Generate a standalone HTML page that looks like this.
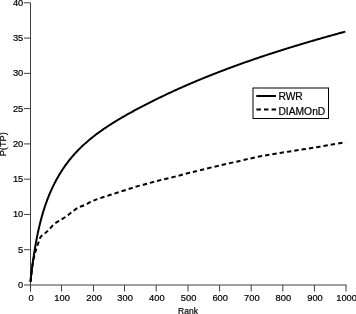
<!DOCTYPE html>
<html><head><meta charset="utf-8"><style>
html,body{margin:0;padding:0;background:#fff;}
body{width:356px;height:314px;overflow:hidden;}
svg{display:block;filter:grayscale(1);}
.t{font-family:"Liberation Sans",sans-serif;font-size:8.5px;fill:#000;stroke:#000;stroke-width:0.2px;}
.l{font-family:"Liberation Sans",sans-serif;font-size:10px;fill:#000;stroke:#000;stroke-width:0.2px;}
</style></head><body>
<svg width="356" height="314" viewBox="0 0 356 314">
<path d="M30.5 2.8V291.5" stroke="#404040" stroke-width="1" fill="none"/>
<path d="M30 285H346.5" stroke="#404040" stroke-width="1" fill="none"/>
<path d="M24 285.00H30.5" stroke="#404040" stroke-width="1"/>
<text transform="translate(23.30 288.00) scale(1.100 1)" text-anchor="end" class="t">0</text>
<path d="M24 249.72H30.5" stroke="#404040" stroke-width="1"/>
<text transform="translate(23.30 252.72) scale(1.100 1)" text-anchor="end" class="t">5</text>
<path d="M24 214.45H30.5" stroke="#404040" stroke-width="1"/>
<text transform="translate(23.30 217.45) scale(1.100 1)" text-anchor="end" class="t">10</text>
<path d="M24 179.18H30.5" stroke="#404040" stroke-width="1"/>
<text transform="translate(23.30 182.18) scale(1.100 1)" text-anchor="end" class="t">15</text>
<path d="M24 143.90H30.5" stroke="#404040" stroke-width="1"/>
<text transform="translate(23.30 146.90) scale(1.100 1)" text-anchor="end" class="t">20</text>
<path d="M24 108.62H30.5" stroke="#404040" stroke-width="1"/>
<text transform="translate(23.30 111.62) scale(1.100 1)" text-anchor="end" class="t">25</text>
<path d="M24 73.35H30.5" stroke="#404040" stroke-width="1"/>
<text transform="translate(23.30 76.35) scale(1.100 1)" text-anchor="end" class="t">30</text>
<path d="M24 38.08H30.5" stroke="#404040" stroke-width="1"/>
<text transform="translate(23.30 41.08) scale(1.100 1)" text-anchor="end" class="t">35</text>
<path d="M24 2.80H30.5" stroke="#404040" stroke-width="1"/>
<text transform="translate(23.30 5.80) scale(1.100 1)" text-anchor="end" class="t">40</text>
<path d="M30.50 285V291.5" stroke="#404040" stroke-width="1"/>
<text transform="translate(31.10 300.90) scale(1.100 1)" text-anchor="middle" class="t">0</text>
<path d="M61.50 285V291.5" stroke="#404040" stroke-width="1"/>
<text transform="translate(62.10 300.90) scale(1.100 1)" text-anchor="middle" class="t">100</text>
<path d="M93.50 285V291.5" stroke="#404040" stroke-width="1"/>
<text transform="translate(94.10 300.90) scale(1.100 1)" text-anchor="middle" class="t">200</text>
<path d="M124.50 285V291.5" stroke="#404040" stroke-width="1"/>
<text transform="translate(125.10 300.90) scale(1.100 1)" text-anchor="middle" class="t">300</text>
<path d="M156.20 285V291.5" stroke="#404040" stroke-width="1"/>
<text transform="translate(156.80 300.90) scale(1.100 1)" text-anchor="middle" class="t">400</text>
<path d="M188.00 285V291.5" stroke="#404040" stroke-width="1"/>
<text transform="translate(188.60 300.90) scale(1.100 1)" text-anchor="middle" class="t">500</text>
<path d="M219.60 285V291.5" stroke="#404040" stroke-width="1"/>
<text transform="translate(220.20 300.90) scale(1.100 1)" text-anchor="middle" class="t">600</text>
<path d="M251.20 285V291.5" stroke="#404040" stroke-width="1"/>
<text transform="translate(251.80 300.90) scale(1.100 1)" text-anchor="middle" class="t">700</text>
<path d="M282.80 285V291.5" stroke="#404040" stroke-width="1"/>
<text transform="translate(283.40 300.90) scale(1.100 1)" text-anchor="middle" class="t">800</text>
<path d="M314.40 285V291.5" stroke="#404040" stroke-width="1"/>
<text transform="translate(315.00 300.90) scale(1.100 1)" text-anchor="middle" class="t">900</text>
<path d="M346.00 285V291.5" stroke="#404040" stroke-width="1"/>
<text transform="translate(346.60 300.90) scale(1.100 1)" text-anchor="middle" class="t">1000</text>
<text transform="translate(188.00 313.80) scale(1.000 1)" text-anchor="middle" class="t">Rank</text>
<text transform="translate(6.2 144.3) rotate(-90) scale(1.09 1)" text-anchor="middle" class="t">P(TP)</text>
<path d="M30.31 281.80 L30.44 280.75 L30.57 279.70 L30.70 278.64 L30.83 277.58 L30.97 276.53 L31.10 275.46 L31.24 274.40 L31.37 273.33 L31.51 272.27 L31.65 271.20 L31.79 270.13 L31.93 269.06 L32.07 267.98 L32.21 266.91 L32.36 265.83 L32.50 264.75 L32.65 263.67 L32.80 262.59 L32.95 261.51 L33.11 260.43 L33.26 259.35 L33.42 258.26 L33.58 257.18 L33.74 256.09 L33.90 255.01 L34.07 253.92 L34.24 252.83 L34.41 251.74 L34.59 250.66 L34.76 249.57 L34.94 248.48 L35.13 247.39 L35.31 246.30 L35.50 245.21 L35.69 244.12 L35.89 243.03 L36.08 241.94 L36.28 240.85 L36.49 239.76 L36.70 238.68 L36.91 237.59 L37.12 236.50 L37.34 235.41 L37.56 234.33 L37.79 233.24 L38.02 232.15 L38.25 231.07 L38.49 229.99 L38.73 228.90 L38.98 227.82 L39.23 226.74 L39.49 225.66 L39.75 224.58 L40.01 223.51 L40.28 222.43 L40.55 221.35 L40.83 220.28 L41.11 219.21 L41.40 218.14 L41.69 217.07 L41.99 216.00 L42.29 214.94 L42.60 213.88 L42.91 212.82 L43.23 211.76 L43.56 210.70 L43.89 209.64 L44.22 208.59 L44.56 207.54 L44.91 206.49 L45.26 205.45 L45.62 204.40 L45.98 203.36 L46.36 202.32 L46.73 201.29 L47.11 200.25 L47.50 199.22 L47.90 198.20 L48.30 197.17 L48.71 196.15 L49.12 195.13 L49.54 194.12 L49.97 193.10 L50.41 192.09 L50.85 191.09 L51.30 190.09 L51.75 189.09 L52.21 188.09 L52.68 187.10 L53.16 186.11 L53.64 185.13 L54.13 184.15 L54.62 183.17 L55.13 182.20 L55.64 181.23 L56.15 180.27 L56.67 179.31 L57.20 178.35 L57.74 177.40 L58.29 176.45 L58.84 175.51 L59.39 174.57 L59.96 173.63 L60.53 172.71 L61.11 171.78 L61.70 170.86 L62.29 169.95 L62.89 169.04 L63.49 168.13 L64.11 167.23 L64.73 166.34 L65.36 165.45 L65.99 164.57 L66.64 163.69 L67.29 162.82 L67.94 161.95 L68.61 161.09 L69.28 160.23 L69.96 159.38 L70.64 158.54 L71.33 157.70 L72.03 156.86 L72.74 156.04 L73.46 155.22 L74.18 154.40 L74.91 153.60 L75.64 152.79 L76.39 152.00 L77.14 151.21 L77.89 150.42 L78.66 149.65 L79.42 148.87 L80.20 148.11 L80.98 147.35 L81.77 146.59 L82.57 145.84 L83.37 145.10 L84.17 144.36 L84.98 143.63 L85.80 142.90 L86.62 142.18 L87.45 141.46 L88.28 140.75 L89.12 140.04 L89.96 139.34 L90.81 138.65 L91.66 137.96 L92.52 137.27 L93.38 136.59 L94.24 135.92 L95.11 135.25 L95.98 134.58 L96.86 133.92 L97.74 133.27 L98.63 132.61 L99.52 131.97 L100.41 131.33 L101.30 130.69 L102.20 130.06 L103.10 129.43 L104.01 128.80 L104.91 128.18 L105.82 127.57 L106.73 126.96 L107.65 126.35 L108.57 125.75 L109.49 125.15 L110.41 124.56 L111.33 123.97 L112.26 123.38 L113.19 122.79 L114.12 122.21 L115.06 121.64 L115.99 121.07 L116.93 120.50 L117.87 119.93 L118.82 119.37 L119.76 118.81 L120.71 118.25 L121.65 117.70 L122.60 117.14 L123.55 116.60 L124.51 116.05 L125.46 115.51 L126.42 114.97 L127.37 114.43 L128.33 113.89 L129.29 113.36 L130.25 112.83 L131.22 112.30 L132.18 111.77 L133.14 111.25 L134.11 110.72 L135.07 110.20 L136.04 109.68 L137.01 109.16 L137.98 108.65 L138.95 108.13 L139.92 107.62 L140.89 107.11 L141.86 106.60 L142.83 106.09 L143.81 105.59 L144.78 105.08 L145.76 104.58 L146.73 104.08 L147.71 103.58 L148.69 103.08 L149.67 102.59 L150.65 102.09 L151.63 101.60 L152.61 101.11 L153.59 100.62 L154.57 100.13 L155.55 99.65 L156.54 99.16 L157.52 98.68 L158.51 98.20 L159.49 97.72 L160.48 97.24 L161.47 96.77 L162.46 96.29 L163.45 95.82 L164.44 95.35 L165.43 94.88 L166.42 94.41 L167.41 93.94 L168.40 93.47 L169.40 93.01 L170.39 92.55 L171.38 92.09 L172.38 91.63 L173.38 91.17 L174.37 90.71 L175.37 90.26 L176.37 89.80 L177.37 89.35 L178.37 88.90 L179.37 88.45 L180.37 88.01 L181.37 87.56 L182.37 87.12 L183.38 86.67 L184.38 86.23 L185.39 85.79 L186.39 85.35 L187.40 84.91 L188.40 84.48 L189.41 84.04 L190.42 83.61 L191.43 83.18 L192.43 82.75 L193.44 82.32 L194.45 81.89 L195.46 81.47 L196.48 81.04 L197.49 80.62 L198.50 80.20 L199.51 79.78 L200.53 79.36 L201.54 78.94 L202.56 78.52 L203.57 78.11 L204.59 77.69 L205.60 77.28 L206.62 76.87 L207.64 76.46 L208.66 76.05 L209.68 75.64 L210.69 75.24 L211.71 74.83 L212.73 74.43 L213.76 74.03 L214.78 73.63 L215.80 73.23 L216.82 72.83 L217.85 72.43 L218.87 72.04 L219.89 71.64 L220.92 71.25 L221.94 70.86 L222.97 70.46 L223.99 70.07 L225.02 69.69 L226.05 69.30 L227.08 68.91 L228.10 68.53 L229.13 68.14 L230.16 67.76 L231.19 67.38 L232.22 67.00 L233.25 66.62 L234.28 66.24 L235.31 65.87 L236.35 65.49 L237.38 65.12 L238.41 64.74 L239.44 64.37 L240.48 64.00 L241.51 63.63 L242.55 63.26 L243.58 62.90 L244.62 62.53 L245.65 62.16 L246.69 61.80 L247.72 61.44 L248.76 61.07 L249.80 60.71 L250.84 60.35 L251.87 59.99 L252.91 59.64 L253.95 59.28 L254.99 58.92 L256.03 58.57 L257.07 58.21 L258.11 57.86 L259.15 57.51 L260.19 57.16 L261.24 56.81 L262.28 56.46 L263.32 56.11 L264.36 55.77 L265.40 55.42 L266.45 55.08 L267.49 54.73 L268.54 54.39 L269.58 54.05 L270.62 53.71 L271.67 53.37 L272.71 53.03 L273.76 52.69 L274.81 52.35 L275.85 52.02 L276.90 51.68 L277.94 51.35 L278.99 51.02 L280.04 50.68 L281.09 50.35 L282.13 50.02 L283.18 49.69 L284.23 49.36 L285.28 49.03 L286.33 48.71 L287.38 48.38 L288.43 48.06 L289.48 47.73 L290.53 47.41 L291.58 47.09 L292.63 46.76 L293.68 46.44 L294.73 46.12 L295.78 45.80 L296.83 45.48 L297.88 45.17 L298.93 44.85 L299.99 44.53 L301.04 44.22 L302.09 43.90 L303.14 43.59 L304.20 43.27 L305.25 42.96 L306.30 42.65 L307.35 42.34 L308.41 42.03 L309.46 41.72 L310.52 41.41 L311.57 41.10 L312.62 40.80 L313.68 40.49 L314.73 40.18 L315.79 39.88 L316.84 39.57 L317.90 39.27 L318.95 38.97 L320.01 38.67 L321.06 38.36 L322.12 38.06 L323.17 37.76 L324.23 37.46 L325.29 37.16 L326.34 36.87 L327.40 36.57 L328.45 36.27 L329.51 35.97 L330.57 35.68 L331.62 35.38 L332.68 35.09 L333.74 34.79 L334.79 34.50 L335.85 34.21 L336.91 33.92 L337.96 33.63 L339.02 33.33 L340.08 33.04 L341.13 32.75 L342.19 32.46 L343.25 32.18 L344.31 31.89 L345.36 31.60" stroke="#000" stroke-width="2" fill="none" stroke-linejoin="round"/>
<path d="M30.70 282.00 C31.00 279.17 31.87 269.50 32.50 265.00 C33.13 260.50 33.87 257.67 34.50 255.00 C35.13 252.33 35.67 251.00 36.30 249.00 C36.93 247.00 37.80 244.45 38.30 243.00 C38.80 241.55 38.92 241.30 39.30 240.30 C39.68 239.30 39.95 237.95 40.60 237.00 C41.25 236.05 42.27 235.40 43.20 234.60 C44.13 233.80 45.20 233.02 46.20 232.20 C47.20 231.38 47.92 231.02 49.20 229.70 C50.48 228.38 52.10 225.87 53.90 224.30 C55.70 222.73 57.97 221.60 60.00 220.30 C62.03 219.00 64.10 217.88 66.10 216.50 C68.10 215.12 70.05 213.43 72.00 212.00 C73.95 210.57 75.72 209.07 77.80 207.90 C79.88 206.73 82.05 206.15 84.50 205.00 C86.95 203.85 89.92 202.13 92.50 201.00 C95.08 199.87 96.75 199.30 100.00 198.20 C103.25 197.10 107.83 195.73 112.00 194.40 C116.17 193.07 120.83 191.53 125.00 190.20 C129.17 188.87 132.83 187.62 137.00 186.40 C141.17 185.18 145.83 184.02 150.00 182.90 C154.17 181.78 157.83 180.75 162.00 179.70 C166.17 178.65 170.75 177.67 175.00 176.60 C179.25 175.53 183.33 174.37 187.50 173.30 C191.67 172.23 194.58 171.52 200.00 170.20 C205.42 168.88 213.33 166.95 220.00 165.40 C226.67 163.85 234.17 162.23 240.00 160.90 C245.83 159.57 250.00 158.45 255.00 157.40 C260.00 156.35 265.00 155.47 270.00 154.60 C275.00 153.73 280.00 153.00 285.00 152.20 C290.00 151.40 295.00 150.58 300.00 149.80 C305.00 149.02 310.00 148.32 315.00 147.50 C320.00 146.68 324.90 145.77 330.00 144.90 C335.10 144.03 343.00 142.73 345.60 142.30" stroke="#000" stroke-width="2" fill="none" stroke-dasharray="4.4 3.0"/>
<rect x="253" y="88" width="75.5" height="30.5" fill="#fff" stroke="#000" stroke-width="1"/>
<path d="M256.3 96H276" stroke="#000" stroke-width="2"/>
<path d="M256.4 109.6H276.2" stroke="#000" stroke-width="2" stroke-dasharray="4.5 3.1"/>
<text transform="translate(278.40 99.90) scale(1.030 1)" text-anchor="start" class="l">RWR</text>
<text transform="translate(278.40 114.60) scale(1.030 1)" text-anchor="start" class="l">DIAMOnD</text>
</svg>
</body></html>
